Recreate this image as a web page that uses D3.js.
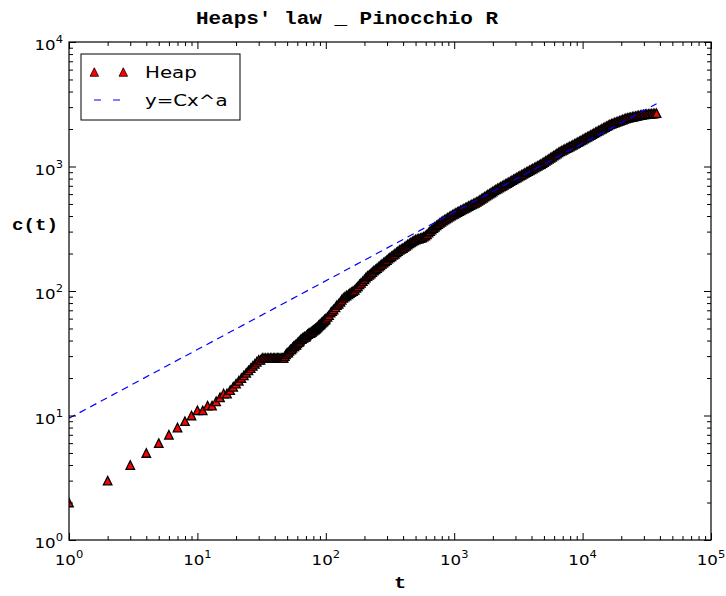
<!DOCTYPE html>
<html>
<head>
<meta charset="utf-8">
<script src="https://cdn.jsdelivr.net/npm/d3@7"></script>
<style>
  html, body { margin: 0; padding: 0; background: #fff; }
  svg { display: block; }
</style>
</head>
<body>
<div id="chart"></div>
<script>
// Token count t and number of distinct words c(t) for the text
const heapT = [
  1, 2, 3, 4, 5, 6, 7, 8, 9, 10, 11, 12, 13, 14, 15, 16, 17, 18, 19, 20,
  21, 22, 23, 24, 25, 26, 27, 28, 29, 30, 31, 32, 33, 34, 35, 36, 37, 38, 39, 40,
  41, 42, 43, 44, 45, 46, 47, 48, 49, 50, 51, 52, 53, 54, 55, 56, 57, 58, 59, 60,
  61, 62, 63, 64, 65, 66, 67, 68, 69, 70, 71, 72, 73, 74, 75, 76, 77, 78, 79, 80,
  81, 82, 83, 84, 85, 86, 87, 88, 89, 90, 91, 92, 93, 94, 95, 96, 97, 98, 99,
  100, 103, 106, 109, 112, 115, 119, 122, 126, 130, 133, 137, 141, 145, 150, 154,
  158, 163, 168, 173, 178, 183, 188, 194, 200, 205, 211, 218, 224, 230, 237, 244,
  251, 259, 266, 274, 282, 290, 299, 307, 316, 325, 335, 345, 355, 365, 376, 387,
  398, 410, 422, 434, 447, 460, 473, 487, 501, 516, 531, 546, 562, 579, 596, 613,
  631, 649, 668, 688, 708, 729, 750, 772, 794, 818, 841, 866, 891, 917, 944, 972,
  1000, 1029, 1059, 1090, 1122, 1155, 1189, 1223, 1259, 1296, 1334, 1372, 1413, 1454,
  1496, 1540, 1585, 1631, 1679, 1728, 1778, 1830, 1884, 1939, 1995, 2054, 2113, 2175,
  2239, 2304, 2371, 2441, 2512, 2585, 2661, 2738, 2818, 2901, 2985, 3073, 3162, 3255,
  3350, 3447, 3548, 3652, 3758, 3868, 3981, 4097, 4217, 4340, 4467, 4597, 4732, 4870,
  5012, 5158, 5309, 5464, 5623, 5788, 5957, 6131, 6310, 6494, 6683, 6879, 7079, 7286,
  7499, 7718, 7943, 8175, 8414, 8660, 8913, 9173, 9441, 9716,
  10000, 10290, 10590, 10900, 11220, 11550, 11890, 12230, 12590, 12960, 13340, 13720,
  14130, 14540, 14960, 15400, 15850, 16310, 16790, 17280, 17780, 18300, 18840, 19390,
  19950, 20540, 21140, 21750, 22390, 23040, 23710, 24410, 25120, 25850, 26610, 27380,
  28180, 29010, 29850, 30730, 31620, 32550, 33500, 34480, 35480, 36520, 37700
];
const heapC = [
  2, 3, 4, 5, 6, 7, 8, 9, 10, 11, 11, 12, 12, 13, 14, 15, 15, 16, 17, 18,
  19, 20, 21, 22, 23, 24, 25, 26, 27, 28, 28, 29, 29, 29, 29, 29, 29, 29, 29, 29,
  29, 29, 29, 29, 29, 29, 29, 30, 31, 32, 32, 33, 34, 34, 35, 36, 36, 37, 37, 38,
  39, 39, 40, 41, 41, 42, 42, 43, 43, 43, 44, 45, 45, 46, 46, 46, 47, 47, 48, 48,
  49, 49, 50, 50, 51, 51, 52, 53, 53, 54, 54, 55, 56, 56, 57, 57, 58, 59, 59,
  60, 62, 64, 67, 69, 71, 74, 77, 79, 82, 85, 88, 90, 92, 94, 96,
  98, 100, 102, 106, 109, 113, 116, 120, 124, 128, 132, 135, 138, 142, 146, 149,
  153, 157, 161, 165, 169, 173, 177, 182, 186, 190, 195, 199, 204, 209, 214, 218,
  221, 226, 231, 236, 241, 246, 250, 255, 259, 262, 264, 266, 269, 273, 278, 285,
  294, 303, 312, 320, 328, 336, 344, 352, 360, 367, 374, 381, 388, 396, 403, 410,
  417, 424, 431, 438, 445, 452, 459, 466, 474, 481, 489, 496, 504, 511,
  519, 529, 539, 550, 561, 572, 584, 595, 606, 618, 630, 642, 654, 665,
  676, 688, 700, 712, 724, 737, 749, 762, 776, 789, 802, 816, 830, 844,
  858, 873, 888, 903, 918, 933, 949, 964, 980, 996, 1012, 1029, 1046, 1066,
  1087, 1108, 1130, 1152, 1175, 1198, 1222, 1246, 1271, 1297, 1323, 1342, 1362, 1383,
  1404, 1426, 1446, 1470, 1494, 1519, 1544, 1570, 1595, 1622,
  1648, 1676, 1704, 1733, 1762, 1791, 1821, 1852, 1882, 1913, 1945, 1976,
  2009, 2042, 2075, 2109, 2144, 2179, 2203, 2228, 2254, 2279, 2305, 2331,
  2358, 2384, 2411, 2439, 2459, 2474, 2490, 2506, 2522, 2538, 2554, 2571,
  2587, 2604, 2619, 2626, 2634, 2641, 2649, 2656, 2664, 2671, 2680
];

// Fitted power law y = C x^a, given by its two end points (straight on log-log axes)
const fitT = [1, 37700];
const fitC = [9.5, 3190];

// Axis decades
const xMajor = [1, 10, 100, 1000, 10000, 100000];
const yMajor = [1, 10, 100, 1000, 10000];
const xExp = ["0", "1", "2", "3", "4", "5"];
const yExp = ["0", "1", "2", "3", "4"];

const W = 726, H = 596;
const L = 69, R = 711, T = 42, B = 540;
const SX = 1.2; // horizontal text stretch

const svg = d3.select("#chart").append("svg")
  .attr("width", W).attr("height", H);

const x = d3.scaleLog().domain([1, 1e5]).range([L, R]);
const y = d3.scaleLog().domain([1, 1e4]).range([B, T]);

const minorOf = (majors) => {
  const out = [];
  for (let i = 0; i < majors.length - 1; i++)
    for (let k = 2; k <= 9; k++) out.push(majors[i] * k);
  return out;
};
const xMinor = minorOf(xMajor);
const yMinor = minorOf(yMajor);

svg.append("defs").append("clipPath").attr("id", "plotClip")
  .append("rect").attr("x", L).attr("y", T).attr("width", R - L).attr("height", B - T);

// Isosceles up-pointing triangle, centred on its bounding box
const tri = {
  draw(ctx, size) {
    const h = Math.sqrt(size) / 2;
    ctx.moveTo(0, -h);
    ctx.lineTo(h, h);
    ctx.lineTo(-h, h);
    ctx.closePath();
  }
};
const triPath = d3.symbol().type(tri).size(8.5 * 8.5)();

const plot = svg.append("g").attr("clip-path", "url(#plotClip)");

const pts = heapT.map((t, i) => ({ t, c: heapC[i] }));
plot.append("g").selectAll("path").data(pts).join("path")
  .attr("d", triPath)
  .attr("transform", d => `translate(${x(d.t)},${y(d.c)})`)
  .attr("fill", "#ff0000")
  .attr("stroke", "#000")
  .attr("stroke-width", 1.3);

const fit = fitT.map((t, i) => ({ t, c: fitC[i] }));
plot.append("path").datum(fit)
  .attr("d", d3.line().x(d => x(d.t)).y(d => y(d.c)))
  .attr("fill", "none")
  .attr("stroke", "#0000ff")
  .attr("stroke-width", 1.2)
  .attr("stroke-dasharray", "7,5");

// Ticks pointing inward on all four sides
function ticks(axisGen, vals, size, transform) {
  svg.append("g").attr("transform", transform)
    .call(axisGen.tickValues(vals).tickSizeInner(-size).tickSizeOuter(0).tickFormat(""))
    .call(g => g.select(".domain").remove())
    .call(g => g.selectAll("line").attr("stroke", "#000").attr("stroke-width", 1));
}
ticks(d3.axisBottom(x), xMajor, 7, `translate(0,${B})`);
ticks(d3.axisBottom(x), xMinor, 4, `translate(0,${B})`);
ticks(d3.axisTop(x), xMajor, 7, `translate(0,${T})`);
ticks(d3.axisTop(x), xMinor, 4, `translate(0,${T})`);
ticks(d3.axisLeft(y), yMajor, 7, `translate(${L},0)`);
ticks(d3.axisLeft(y), yMinor, 4, `translate(${L},0)`);
ticks(d3.axisRight(y), yMajor, 7, `translate(${R},0)`);
ticks(d3.axisRight(y), yMinor, 4, `translate(${R},0)`);

svg.append("rect")
  .attr("x", L).attr("y", T).attr("width", R - L).attr("height", B - T)
  .attr("fill", "none").attr("stroke", "#000").attr("stroke-width", 1.2);

// Power-of-ten tick labels
function powLabel(px, py, exp, anchor) {
  const t = svg.append("text")
    .attr("transform", `translate(${px},${py}) scale(1.15,1)`)
    .attr("text-anchor", anchor)
    .attr("font-family", "DejaVu Sans")
    .attr("font-size", 14.5)
    .attr("fill", "#000");
  t.append("tspan").text("10");
  t.append("tspan").attr("font-size", 10).attr("dy", -7).text(exp);
}
xMajor.forEach((v, i) => powLabel(x(v), B + 25, xExp[i], "middle"));
yMajor.forEach((v, i) => powLabel(L - 6, y(v) + 8, yExp[i], "end"));

const mono = "'Liberation Mono', 'DejaVu Sans Mono', monospace";
function label(px, py, str, size, anchor) {
  svg.append("text")
    .attr("transform", `translate(${px},${py}) scale(${SX},1)`)
    .attr("text-anchor", anchor)
    .attr("font-family", mono)
    .attr("font-weight", "bold")
    .attr("font-size", size)
    .attr("fill", "#000")
    .text(str);
}
label(347, 24, "Heaps' law _ Pinocchio R", 17.5, "middle");
label(400, 588, "t", 17, "middle");
label(35, 230, "c(t)", 16, "middle");

// Legend
const lg = svg.append("g");
lg.append("rect").attr("x", 81).attr("y", 54).attr("width", 159).attr("height", 66)
  .attr("fill", "#fff").attr("stroke", "#000").attr("stroke-width", 1);
[94.3, 123.3].forEach(px => lg.append("path").attr("d", triPath)
  .attr("transform", `translate(${px},72)`)
  .attr("fill", "#ff0000").attr("stroke", "#000").attr("stroke-width", 0.8));
lg.append("line").attr("x1", 94).attr("x2", 120).attr("y1", 100).attr("y2", 100)
  .attr("stroke", "#0000ff").attr("stroke-width", 1.2).attr("stroke-dasharray", "7,12");
const legendText = (py, str) => lg.append("text")
  .attr("transform", `translate(145,${py}) scale(${SX},1)`)
  .attr("font-family", "DejaVu Sans").attr("font-size", 16.5).attr("fill", "#000").text(str);
legendText(78, "Heap");
legendText(106, "y=Cx^a");
</script>
</body>
</html>
